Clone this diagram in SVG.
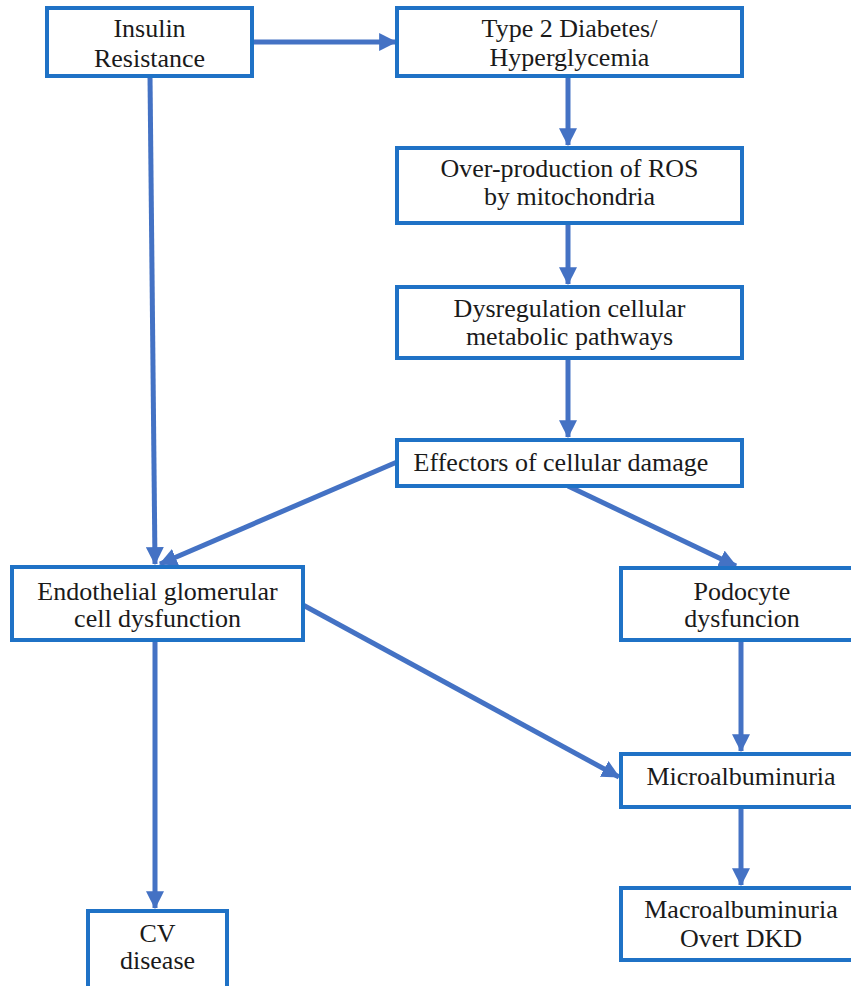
<svg xmlns="http://www.w3.org/2000/svg" width="851" height="986" viewBox="0 0 851 986">
<style>
.box{fill:#fff;stroke:#1f72c6;stroke-width:4}
.t{font-family:"Liberation Serif","Times New Roman",serif;font-size:26px;fill:#1a1a1a;text-anchor:middle}
.c{stroke:#4472c4;stroke-width:5;fill:none}
</style>
<defs>
<marker id="ah" markerUnits="userSpaceOnUse" markerWidth="18" markerHeight="18" viewBox="0 0 16 16" refX="15" refY="8" orient="auto">
<path d="M0,0 L16,8 L0,16 z" fill="#4472c4"/>
</marker>
</defs>
<rect width="851" height="986" fill="#fff"/>
<g id="connectors">
<line class="c" x1="252" y1="42" x2="396" y2="42" marker-end="url(#ah)"/>
<line class="c" x1="150" y1="76" x2="155" y2="564" marker-end="url(#ah)"/>
<line class="c" x1="568" y1="76" x2="568" y2="145" marker-end="url(#ah)"/>
<line class="c" x1="568" y1="223" x2="568" y2="284" marker-end="url(#ah)"/>
<line class="c" x1="568" y1="358" x2="568" y2="437" marker-end="url(#ah)"/>
<line class="c" x1="397" y1="462" x2="160" y2="564" marker-end="url(#ah)"/>
<line class="c" x1="568" y1="486" x2="736" y2="566" marker-end="url(#ah)"/>
<line class="c" x1="303" y1="605" x2="619" y2="777" marker-end="url(#ah)"/>
<line class="c" x1="741" y1="640" x2="741" y2="751" marker-end="url(#ah)"/>
<line class="c" x1="155" y1="640" x2="155" y2="908" marker-end="url(#ah)"/>
<line class="c" x1="741" y1="807" x2="741" y2="885" marker-end="url(#ah)"/>
</g>
<g id="insulin">
<rect class="box" x="47" y="8" width="205" height="68"/>
<text class="t" x="149.5" y="37">Insulin</text>
<text class="t" x="149.5" y="67">Resistance</text>
</g>
<g id="diabetes">
<rect class="box" x="397" y="8" width="345" height="68"/>
<text class="t" x="569.5" y="37">Type 2 Diabetes/</text>
<text class="t" x="569.5" y="66">Hyperglycemia</text>
</g>
<g id="ros">
<rect class="box" x="397" y="148" width="345" height="75"/>
<text class="t" x="569.5" y="177">Over-production of ROS</text>
<text class="t" x="569.5" y="205">by mitochondria</text>
</g>
<g id="dysregulation">
<rect class="box" x="397" y="287" width="345" height="71"/>
<text class="t" x="569.5" y="317">Dysregulation cellular</text>
<text class="t" x="569.5" y="345">metabolic pathways</text>
</g>
<g id="effectors">
<rect class="box" x="397" y="440" width="345" height="46"/>
<text class="t" x="561" y="471">Effectors of cellular damage</text>
</g>
<g id="endothelial">
<rect class="box" x="12" y="567" width="291" height="73"/>
<text class="t" x="157.5" y="600">Endothelial glomerular</text>
<text class="t" x="157.5" y="627">cell dysfunction</text>
</g>
<g id="podocyte">
<rect class="box" x="621" y="568" width="242" height="72"/>
<text class="t" x="742" y="600">Podocyte</text>
<text class="t" x="742" y="627">dysfuncion</text>
</g>
<g id="micro">
<rect class="box" x="621" y="754" width="242" height="53"/>
<text class="t" x="741" y="785">Microalbuminuria</text>
</g>
<g id="cv">
<rect class="box" x="88" y="911" width="139" height="90"/>
<text class="t" x="157.5" y="942">CV</text>
<text class="t" x="157.5" y="969">disease</text>
</g>
<g id="macro">
<rect class="box" x="621" y="888" width="242" height="72"/>
<text class="t" x="741" y="918">Macroalbuminuria</text>
<text class="t" x="741" y="947">Overt DKD</text>
</g>
</svg>
